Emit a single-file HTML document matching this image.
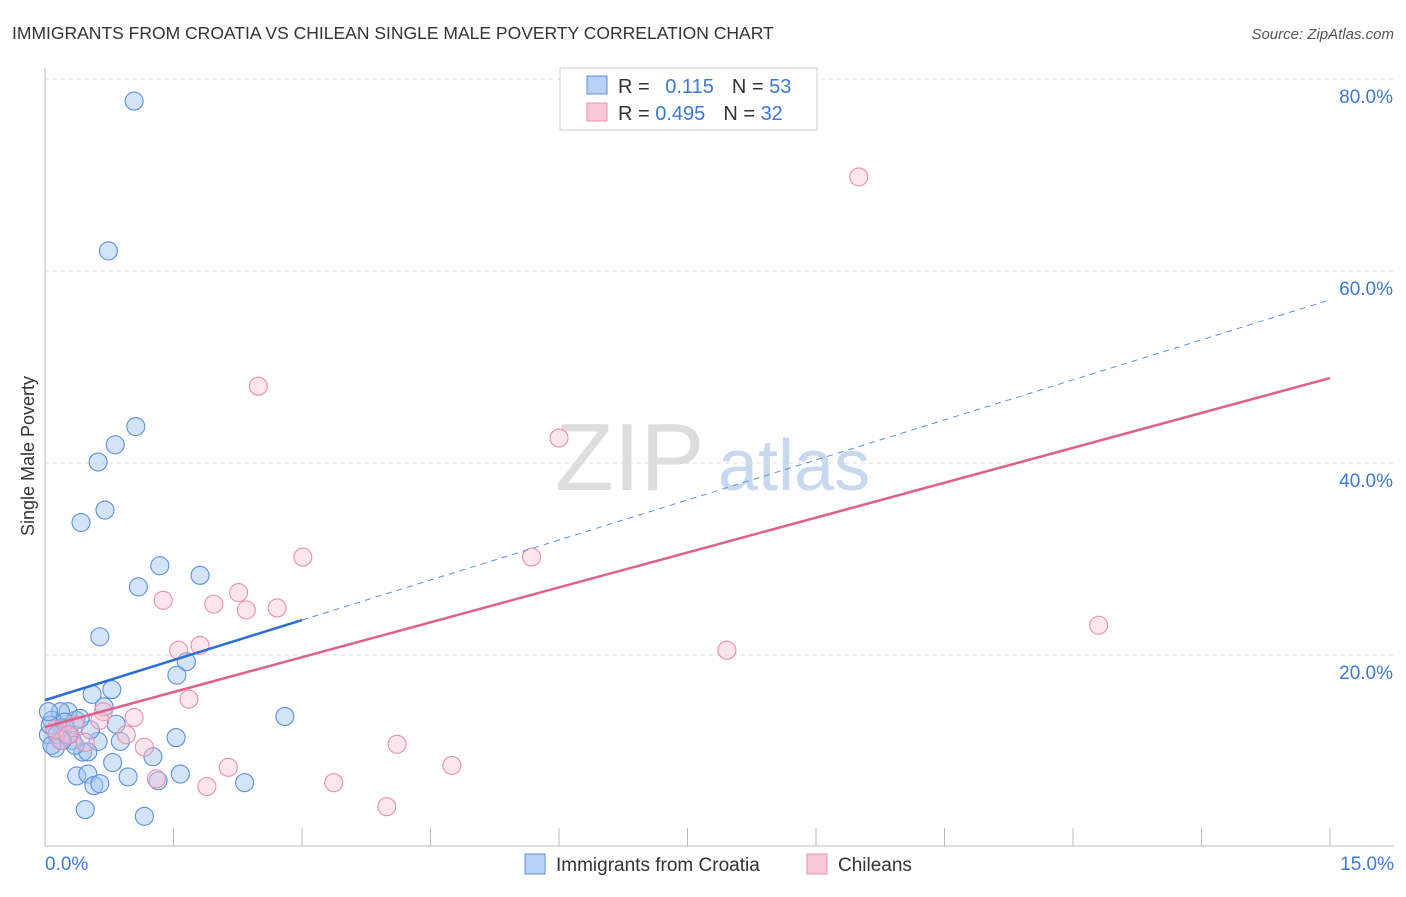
<!DOCTYPE html>
<html><head><meta charset="utf-8"><style>
body{margin:0;background:#fff;font-family:"Liberation Sans",sans-serif}
svg text{font-family:"Liberation Sans",sans-serif}
</style></head><body>
<svg id="c" width="1406" height="892" xmlns="http://www.w3.org/2000/svg">
<text x="12" y="39" font-size="17.5" fill="#333">IMMIGRANTS FROM CROATIA VS CHILEAN SINGLE MALE POVERTY CORRELATION CHART</text>
<text x="1394" y="39" font-size="15" fill="#555" font-style="italic" text-anchor="end">Source: ZipAtlas.com</text>
<text transform="translate(34,456) rotate(-90)" font-size="18" fill="#333" text-anchor="middle">Single Male Poverty</text>
<g><text x="555" y="490" font-size="96" fill="#ddd" font-family="Liberation Serif">ZIP</text><text x="718" y="490" font-size="72" fill="#c8d8ee">atlas</text></g>
<g id="grid"></g><g id="axes"></g><g id="pts"></g><g id="lines"></g>
<g>
<rect x="560" y="68" width="257" height="62" fill="#fff" stroke="#ccc"/>
<rect x="587" y="76" width="20" height="18" fill="#b8d2f5" stroke="#5b8fd9"/>
<text x="618" y="93" font-size="20" fill="#333">R = <tspan fill="#3b78d8" dx="10">0.115</tspan><tspan dx="18">N = </tspan><tspan fill="#3b78d8">53</tspan></text>
<rect x="587" y="103" width="20" height="18" fill="#f8c8d8" stroke="#e890aa"/>
<text x="618" y="120" font-size="20" fill="#333">R = <tspan fill="#3b78d8">0.495</tspan><tspan dx="18">N = </tspan><tspan fill="#3b78d8">32</tspan></text>
</g>
<g>
<rect x="525" y="854" width="20" height="20" fill="#b8d2f5" stroke="#5b8fd9"/>
<text x="556" y="871" font-size="19" fill="#333">Immigrants from Croatia</text>
<rect x="807" y="854" width="20" height="20" fill="#f8c8d8" stroke="#e890aa"/>
<text x="838" y="871" font-size="19" fill="#333">Chileans</text>
</g>
</svg>
<script>
const yTicks=[20,40,60,80];
const xTickLabels=["0.0%","15.0%"];
const blueX=[1.04,0.74,1.06,0.82,0.62,0.42,0.70,1.34,1.09,1.81,0.64,1.65,1.54,0.55,0.78,0.69,2.80,1.53,0.88,0.62,0.83,0.36,0.27,0.18,0.08,0.04,0.12,0.20,0.29,0.44,0.50,1.26,0.79,0.37,0.50,0.97,1.58,1.32,2.33,0.57,0.64,0.47,1.16,0.06,0.32,0.14,0.23,0.53,0.04,0.35,0.20,0.08,0.41];
const blueY=[77.7,62.1,43.8,41.9,40.1,33.8,35.1,29.3,27.1,28.3,21.9,19.3,17.9,15.9,16.4,14.6,13.6,11.4,11.0,11.0,12.8,13.2,14.1,14.1,13.2,11.7,10.3,12.4,11.7,9.9,9.9,9.4,8.8,7.4,7.6,7.3,7.6,6.9,6.7,6.4,6.6,3.9,3.2,12.7,11.1,11.7,13.0,12.2,14.1,10.6,11.1,10.6,13.4];
const pinkX=[9.50,2.49,6.00,3.01,5.68,12.30,7.96,1.38,2.26,1.97,2.35,2.71,1.56,1.81,1.68,1.04,0.68,0.64,0.95,0.18,0.35,1.16,0.47,1.30,2.14,1.89,3.37,4.11,4.75,3.99,0.12,0.27];
const pinkY=[69.8,48.0,42.6,30.2,30.2,23.1,20.5,25.7,26.5,25.3,24.7,24.9,20.5,21.0,15.4,13.5,14.1,13.2,11.7,11.1,12.7,10.4,10.9,7.1,8.3,6.3,6.7,10.7,8.5,4.2,12.2,11.7];
const blueLine=[15.3,57.0];
const pinkLine=[12.5,48.85];
const NS="http://www.w3.org/2000/svg";
const sx=v=>45+v/15*1285, sy=v=>847-v*9.6;
function mk(p,t,a){const e=document.createElementNS(NS,t);for(const k in a)e.setAttribute(k,a[k]);p.appendChild(e);return e;}
const g=document.getElementById('grid'),ax=document.getElementById('axes'),pts=document.getElementById('pts'),ln=document.getElementById('lines');
yTicks.forEach(v=>{const l=mk(g,'line',{x1:45,x2:1394,y1:sy(v),y2:sy(v),stroke:'#ddd','stroke-dasharray':'4,4'});


const t=mk(g,'text',{x:1393,y:sy(v)+24,'font-size':19,fill:'#3b78d8','text-anchor':'end'});t.textContent=v.toFixed(1)+'%';

});
mk(ax,'line',{x1:45,x2:45,y1:68,y2:846,stroke:'#bbb'});
mk(ax,'line',{x1:45,x2:1394,y1:846,y2:846,stroke:'#bbb'});
for(let i=1;i<=10;i++){const x=sx(i*1.5);const l=mk(ax,'line',{x1:x,x2:x,y1:828,y2:846,stroke:'#bbb'});

}
const t0=mk(ax,'text',{x:45,y:870,'font-size':19,fill:'#3b78d8'});t0.textContent=xTickLabels[0];


const t1=mk(ax,'text',{x:1394,y:870,'font-size':19,fill:'#3b78d8','text-anchor':'end'});t1.textContent=xTickLabels[1];


blueX.forEach((x,i)=>{const c=mk(pts,'circle',{cx:sx(x),cy:sy(blueY[i]),r:9,fill:'rgba(160,196,240,0.45)',stroke:'#5b8fd9','stroke-width':1.1});

});
pinkX.forEach((x,i)=>{const c=mk(pts,'circle',{cx:sx(x),cy:sy(pinkY[i]),r:9,fill:'rgba(248,190,210,0.4)',stroke:'#e890aa','stroke-width':1.1});

});
const bl=v=>blueLine[0]+(blueLine[1]-blueLine[0])*v/15, pl=v=>pinkLine[0]+(pinkLine[1]-pinkLine[0])*v/15;
const b1=mk(ln,'line',{x1:sx(0),y1:sy(bl(0)),x2:sx(3),y2:sy(bl(3)),stroke:'#2a6fd6','stroke-width':2.5});


const b2=mk(ln,'line',{x1:sx(3),y1:sy(bl(3)),x2:sx(15),y2:sy(bl(15)),stroke:'#5b8fd9','stroke-width':1,'stroke-dasharray':'6,5'});


const p1=mk(ln,'line',{x1:sx(0),y1:sy(pl(0)),x2:sx(15),y2:sy(pl(15)),stroke:'#e0608a','stroke-width':2.5});


</script>
</body></html>
